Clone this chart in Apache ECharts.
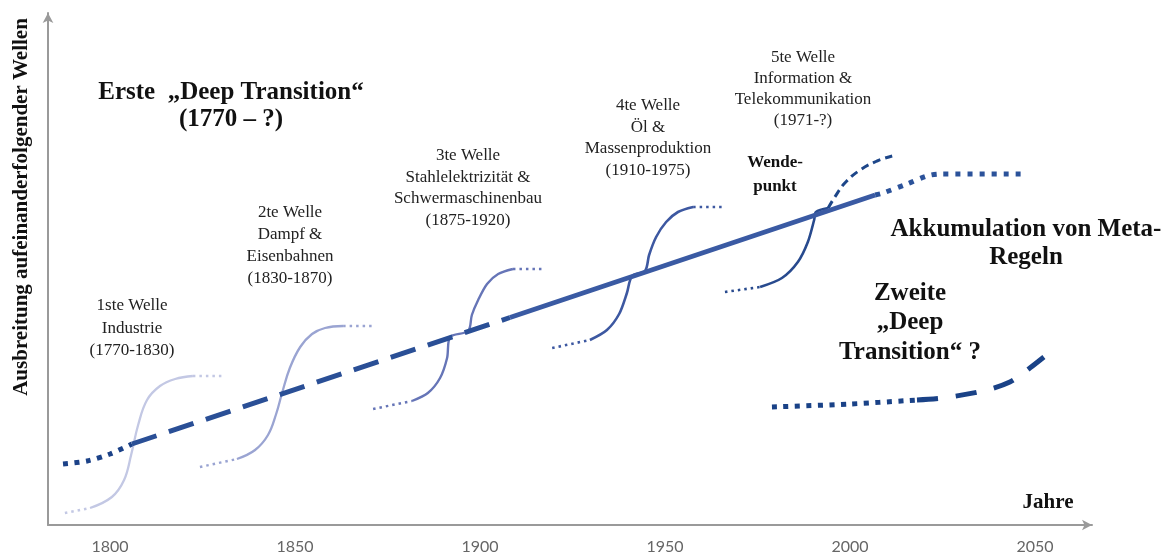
<!DOCTYPE html>
<html>
<head>
<meta charset="utf-8">
<script src="https://cdn.jsdelivr.net/npm/echarts@6/dist/echarts.min.js"></script>
<style>
html,body{margin:0;padding:0;background:#fff;}
#chart{width:1169px;height:555px;}
</style>
</head>
<body>
<div id="chart"></div>
<script>
// ---- data (years, level) ----
const yearTicks = [1800, 1850, 1900, 1950, 2000, 2050];

const w1Pre   = [[1787.8,12],[1794.6,17]];
const w1Curve = [[1794.6,17],[1800.5,28],[1803.8,45],[1805.7,70],[1807.6,100],[1810.0,125],[1813.5,139],[1817.6,146],[1822.4,149]];
const w1Post  = [[1822.4,149],[1830.5,149]];

const w2Pre   = [[1824.3,58],[1834.3,66]];
const w2Curve = [[1834.3,66],[1839.2,75],[1842.7,90],[1844.9,111],[1846.5,132],[1848.6,157],[1851.4,178],[1854.6,191],[1858.1,197],[1863.0,199]];
const w2Post  = [[1863.0,199],[1871.1,199]];

const w3Pre   = [[1871.1,116],[1881.6,124]];
const w3Curve = [[1881.6,124],[1885.9,132],[1889.2,147],[1891.1,167],[1891.9,188],[1896.8,194],[1897.8,210],[1899.5,225],[1901.9,241],[1904.9,251],[1908.9,256]];
const w3Post  = [[1908.9,256],[1917.6,256]];

const w4Pre   = [[1919.5,177],[1929.7,185]];
const w4Curve = [[1929.7,185],[1934.3,195],[1937.6,211],[1939.7,232],[1941.1,249],[1944.6,254],[1945.7,270],[1947.6,288],[1950.3,303],[1953.5,313],[1957.6,318]];
const w4Post  = [[1957.6,318],[1966.2,318]];

const w5Pre   = [[1966.2,233],[1975.7,238]];
const w5Curve = [[1975.7,238],[1981.6,247],[1985.9,263],[1988.6,283],[1990.3,305],[1990.8,313],[1994.1,317]];
const w5Dash  = [[1994.1,317],[1995.9,328],[1998.6,342],[2002.7,355],[2007.3,364],[2011.4,369]];

const trendDot   = [[1787.3,61],[1793.8,64],[1800,71],[1805.9,81]];
const trendDash  = [[1805.9,81],[1908.1,207.5]];
const trendSolid = [[1908.1,207.5],[2006.8,330]];
const trendEnd   = [[2006.8,330],[2008.9,332],[2015.4,341],[2020.8,349],[2024.3,351],[2047.8,351]];

const secondDot  = [[1978.9,118],[2000,121],[2018.1,125]];
const secondDash = [[2018.1,125],[2025.1,127],[2035.9,134],[2043.2,143],[2048.6,157],[2052.4,168]];

// ---- chart ----
function ls(data, color, width, type, smooth, z) {
  return {
    type: 'line', data: data, symbol: 'none', showSymbol: false,
    smooth: smooth || false, silent: true, animation: false, z: z || 2,
    lineStyle: { color: color, width: width, type: type || 'solid', cap: 'butt' }
  };
}

const C = {
  w1: '#c3c8e4', w2: '#9aa4d2', w3: '#6675b7', w4: '#3d58a1', w5: '#284a8e', w5d: '#1d4689',
  tDot: '#1c4288', tDash: '#2a4f96', tSolid: '#3a5aa3', tEnd: '#2b529a', second: '#1a4287'
};
const waveDot = [2.5, 4];

const series = [
  ls(w1Pre, C.w1, 2.5, waveDot), ls(w1Curve, C.w1, 2.3, 'solid', 0.4), ls(w1Post, C.w1, 2.5, waveDot),
  ls(w2Pre, C.w2, 2.5, waveDot), ls(w2Curve, C.w2, 2.3, 'solid', 0.4), ls(w2Post, C.w2, 2.5, waveDot),
  ls(w3Pre, C.w3, 2.5, waveDot), ls(w3Curve, C.w3, 2.4, 'solid', 0.3), ls(w3Post, C.w3, 2.5, waveDot),
  ls(w4Pre, C.w4, 2.6, waveDot), ls(w4Curve, C.w4, 2.6, 'solid', 0.3), ls(w4Post, C.w4, 2.6, waveDot),
  ls(w5Pre, C.w5, 2.6, waveDot), ls(w5Curve, C.w5, 2.6, 'solid', 0.3), ls(w5Dash, C.w5d, 3, [8, 5], 0.4),
  ls(trendDot, C.tDot, 5, [5, 6.5], 0.3, 3),
  ls(trendDash, C.tDash, 5, [26, 13], false, 3),
  ls(trendSolid, C.tSolid, 5, 'solid', false, 3),
  ls(trendEnd, C.tEnd, 5, [5, 7], 0.3, 3),
  ls(secondDot, C.second, 5, [5, 6.5], 0.3, 3),
  ls(secondDash, C.second, 5, [21, 18], 0.3, 3)
];

const serif = '"Liberation Serif", "Times New Roman", serif';
function txt(text, x, y, size, bold, lh, color, extra) {
  const o = {
    type: 'text', x: x, y: y, silent: true, z: 10,
    style: {
      text: text, textAlign: 'center', textVerticalAlign: 'middle',
      font: (bold ? 'bold ' : '') + size + 'px ' + serif,
      fill: color || '#111', lineHeight: lh
    }
  };
  if (extra) Object.assign(o, extra);
  return o;
}

const chart = echarts.init(document.getElementById('chart'), null, { renderer: 'canvas' });
chart.setOption({
  backgroundColor: '#ffffff',
  animation: false,
  grid: { left: 48, right: 77, top: 13, bottom: 30, containLabel: false },
  xAxis: {
    type: 'value', min: 1783.24, max: 2065.4,
    splitLine: { show: false }, axisTick: { show: false },
    axisLine: { show: true, onZero: false, symbol: ['none', 'arrow'], symbolSize: [8, 10],
      lineStyle: { color: '#9a9a9a', width: 2 } },
    axisLabel: { customValues: yearTicks, formatter: function (v) { return String(v); },
      color: '#666', fontFamily: 'Lato', fontSize: 16, margin: 14 }
  },
  yAxis: {
    type: 'value', min: 0, max: 512,
    splitLine: { show: false }, axisTick: { show: false }, axisLabel: { show: false },
    axisLine: { show: true, onZero: false, symbol: ['none', 'arrow'], symbolSize: [8, 10],
      lineStyle: { color: '#9a9a9a', width: 2 } }
  },
  series: series,
  graphic: [
    txt('Ausbreitung aufeinanderfolgender Wellen', 22, 207, 21, true, 24, '#111', { rotation: Math.PI / 2 }),
    txt('Erste  \u201EDeep Transition\u201C\n(1770 \u2013 ?)', 231, 106.5, 25, true, 27),
    txt('1ste Welle\nIndustrie\n(1770-1830)', 132, 328.5, 17, false, 22.5, '#222'),
    txt('2te Welle\nDampf &\nEisenbahnen\n(1830-1870)', 290, 246, 17, false, 22, '#222'),
    txt('3te Welle\nStahlelektrizit\u00E4t &\nSchwermaschinenbau\n(1875-1920)', 468, 188, 17, false, 21.7, '#222'),
    txt('4te Welle\n\u00D6l &\nMassenproduktion\n(1910-1975)', 648, 138, 17, false, 21.7, '#222'),
    txt('5te Welle\nInformation &\nTelekommunikation\n(1971-?)', 803, 89, 17, false, 21.3, '#222'),
    txt('Wende-\npunkt', 775, 175, 17, true, 24),
    txt('Akkumulation von Meta-\nRegeln', 1026, 244, 25, true, 28),
    txt('Zweite\n\u201EDeep\nTransition\u201C ?', 910, 323, 25, true, 29.5),
    txt('Jahre', 1048, 503, 21, true, 24)
  ]
});
</script>
</body>
</html>
